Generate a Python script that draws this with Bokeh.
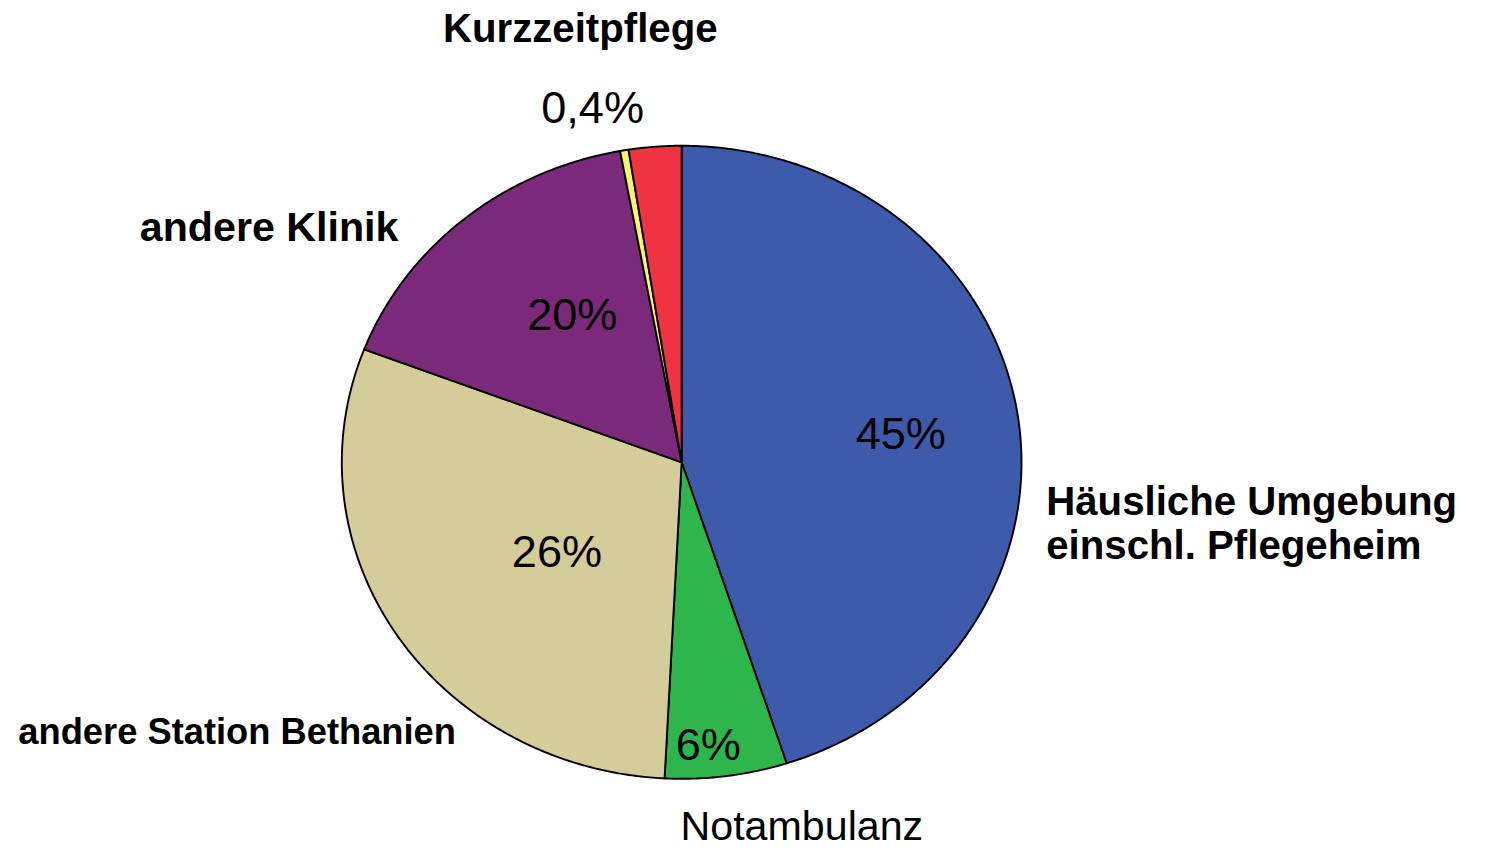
import numpy as np
from bokeh.plotting import figure
from bokeh.models import Range1d, ColumnDataSource
from bokeh.core.properties import value
from bokeh.embed import file_html
from bokeh.resources import INLINE

# ---- data (clockwise from 12 o'clock) ----
categories = ["Häusliche Umgebung\neinschl. Pflegeheim", "Notambulanz",
              "andere Station Bethanien", "andere Klinik", "Kurzzeitpflege", ""]
shares = [45.0, 5.8, 30.0, 16.3, 0.4, 2.5]          # drawn slice sizes
pct_labels = ["45%", "6%", "26%", "20%", "0,4%", ""]  # printed labels
colors = ["#3E5AAB", "#2EB54B", "#D4CD99", "#7B297A", "#FAF46A", "#EF3340"]

# ---- layout (reference-image pixel coordinates, 1499 x 864) ----
W, H = 1483, 848
REF_W, REF_H = 1499, 864
S = H / REF_H
CX, CY = 688.5, 470.5
RX, RY = 343.5, 322.5
FONT = "Liberation Sans"

# (x, cap-top y) anchors
pct_pos = [(910, 424), (715.5, 741), (562.5, 544), (578, 303), (598.5, 92), None]
cat_pos = [(1057, 495, "left", "bold", 41),
           (810, 826, "center", "normal", 42),
           (18, 731, "left", "bold", 37),
           (271.5, 215, "center", "bold", 42),
           (586, 13, "center", "bold", 41),
           None]
LINE_STEP = 45
ASC_GAP = 0.19  # distance from em-box top to cap top, in em

p = figure(width=W, height=H, x_range=Range1d(0, REF_W), y_range=Range1d(REF_H, 0),
           output_backend="svg", toolbar_location=None, min_border=0,
           x_axis_type=None, y_axis_type=None)
p.grid.visible = False
p.outline_line_color = None
p.background_fill_color = "white"
p.border_fill_color = "white"

total = float(sum(shares))
xs, ys = [], []
start = 0.0
for s in shares:
    a0 = 2 * np.pi * start / total
    a1 = 2 * np.pi * (start + s) / total
    n = max(3, int(np.ceil((a1 - a0) / (2 * np.pi) * 720)))
    t = np.linspace(a0, a1, n)
    px = [CX] + list(CX + RX * np.sin(t)) + [CX]
    py = [CY] + list(CY - RY * np.cos(t)) + [CY]
    xs.append(px)
    ys.append(py)
    start += s

src = ColumnDataSource(dict(xs=xs, ys=ys, color=colors))
p.patches("xs", "ys", source=src, fill_color="color", line_color="black",
          line_width=1.9, line_join="round")

# percentage labels
for lab, pos in zip(pct_labels, pct_pos):
    if pos is None or not lab:
        continue
    fs = 46
    p.text(x=[pos[0]], y=[pos[1] - ASC_GAP * fs], text=[lab], text_font=value(FONT),
           text_font_size=f"{fs * S:.1f}px", text_align="center",
           text_baseline="top", text_color="black")

# category labels
for cat, pos in zip(categories, cat_pos):
    if pos is None or not cat:
        continue
    x, y, align, style, size = pos
    for i, line in enumerate(cat.split("\n")):
        p.text(x=[x], y=[y - ASC_GAP * size + i * LINE_STEP], text=[line],
               text_font=value(FONT),
               text_font_size=f"{size * S:.1f}px", text_font_style=style,
               text_align=align, text_baseline="top", text_color="black")

open("out.html", "w").write(file_html(p, INLINE))
